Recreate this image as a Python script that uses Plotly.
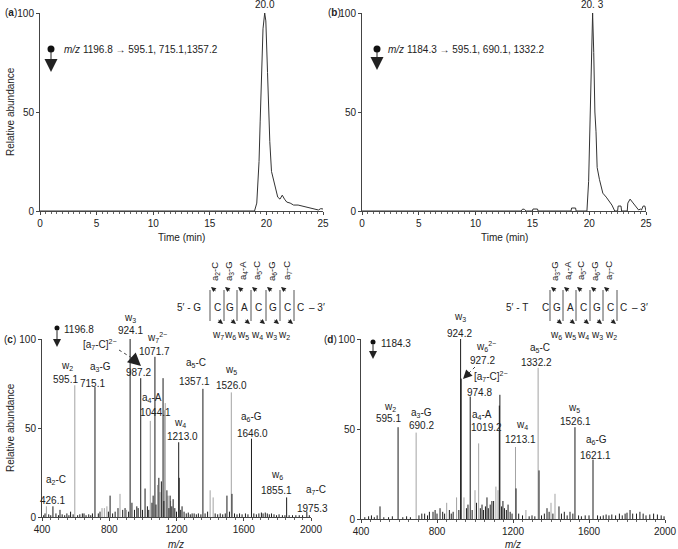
import plotly.graph_objects as go

W, H = 678, 549
FONT = "Liberation Sans, Arial, Helvetica, sans-serif"
BLACK = "#1c1c1c"
GRAY = "#a3a3a3"

# ---------- (a) chromatogram m/z 1196.8
time_a = [0, 18.95, 19.15, 19.35, 19.45, 19.55, 19.7, 19.85, 19.95, 20.1, 20.2, 20.3, 20.45,
          20.6, 20.8, 21.0, 21.2, 21.4, 21.6, 21.8, 22.1, 22.4, 22.8, 23.2, 23.6, 24.1, 24.4,
          24.6, 24.8, 25.0]
abund_a = [0, 0, 4, 25, 45, 70, 92, 100, 96, 70, 50, 35, 20,
           16, 12, 7, 6, 8, 6, 4.5, 4, 3, 3, 2.5, 2, 1.5, 1,
           0.5, 1.2, 1]

# ---------- (b) chromatogram m/z 1184.3
time_b = [0, 14.0, 14.15, 14.3, 14.45, 15.0, 15.05, 15.45, 15.5, 18.4, 18.45, 18.8, 18.85,
          19.8, 19.95, 20.1, 20.2, 20.3, 20.4, 20.5, 20.6, 20.7, 20.9, 21.2, 21.5, 21.8, 22.0,
          22.25, 22.5, 22.55, 22.8, 22.85, 23.35, 23.4, 23.6, 23.8, 24.0, 24.2, 24.35, 24.5,
          24.6, 24.75, 24.9, 25.0]
abund_b = [0, 0, 1, 0.8, 0, 0, 1, 1, 0, 0, 1.5, 1.5, 0,
           0, 15, 55, 85, 100, 80, 50, 40, 22, 16, 9, 7, 4.5, 3,
           0, 0, 2.5, 2.5, 0, 0, 4, 6, 4.5, 3, 2, 0.5, 1,
           0.5, 2.5, 2.5, 0]

# ---------- (c) MS/MS of m/z 1196.8
mz_c_black = [715.1, 924.1, 987.2, 1071.7, 1120, 1213.0, 1357.1, 1646.0, 1855.1, 1975.3,
              805, 852, 894, 935, 964, 1013, 1061, 1095, 1110, 1143, 1162, 1180, 1216, 1233,
              1293, 1500, 1530, 465, 507, 570, 640,
              410, 418, 440, 452, 483, 498, 520, 535, 548, 560, 585, 612, 625, 650, 662, 678,
              690, 700, 735, 745, 795, 820, 835, 880, 915, 950, 972, 998, 1027, 1035, 1054,
              1078, 1125, 1155, 1172, 1190, 1200, 1225, 1245, 1258, 1270, 1282, 1305, 1318,
              1330, 1345, 1370, 1385, 1430, 1445, 1460, 1475, 1490, 1515, 1545, 1560, 1575,
              1590, 1610, 1625, 1660, 1675, 1690, 1705, 1715, 1728, 1740, 1752, 1765, 1780,
              1795, 1810, 1830, 1845, 1870, 1890, 1910, 1930, 1950, 1990]
int_c_black = [73, 100, 78, 90, 78, 42, 72, 44, 11, 3,
               12, 5, 5, 8, 6, 16, 12, 22, 20, 15, 12, 10, 22, 6,
               2, 12, 13, 6, 4, 3, 2,
               1, 2, 1.5, 1, 2, 1, 1.5, 1, 2, 1, 1.5, 1, 1.5, 2, 1, 1.5,
               1, 2, 2, 3, 3, 2, 3, 4, 3, 4, 5, 4, 6, 4, 8,
               7, 9, 5, 6, 5, 3, 4, 3, 2, 2.5, 1.5, 2, 1.5,
               2, 1.5, 2, 3, 2, 1.5, 2, 1.5, 2, 3, 2, 1.5, 2,
               1.5, 2, 1.5, 2, 1.5, 2, 2.5, 2, 2.5, 2, 1.5, 2, 1.5,
               1, 1.5, 1, 1, 1, 1, 1, 1, 1, 1]
mz_c_gray = [426.1, 595.1, 1044.1, 1128, 1133, 1526.0, 757, 771, 786, 864, 903, 1087, 1102,
             1150, 1165, 1400, 1418]
int_c_gray = [6, 74, 54, 60, 64, 70, 5, 5, 6, 13, 4, 18, 14,
              12, 9, 15, 11]

# ---------- (d) MS/MS of m/z 1184.3
mz_d_black = [595.1, 924.2, 927.2, 974.8, 1128, 1131, 1216, 1337, 1526.1, 1621.1,
              500, 779, 816, 963, 1037, 1063, 1089, 1147, 1174, 1379, 1442, 1816, 1868,
              420, 440, 455, 470, 485, 520, 545, 565, 620, 640, 660, 705, 720, 735, 750, 760,
              790, 800, 830, 840, 865, 875, 885, 915, 955, 985, 1008, 1028, 1045, 1055, 1070,
              1080, 1098, 1140, 1155, 1165, 1185, 1195, 1230, 1250, 1285, 1300, 1315, 1350,
              1365, 1390, 1410, 1455, 1470, 1485, 1500, 1515, 1545, 1560, 1580, 1600, 1645,
              1660, 1675, 1690, 1705, 1720, 1740, 1760, 1775, 1790, 1800, 1830, 1850, 1885,
              1900, 1920, 1940, 1960, 1980, 1995]
int_d_black = [51, 100, 78, 68, 63, 69, 17, 27, 51, 33,
               7, 4, 6, 8, 8, 12, 10, 10, 8, 6, 7, 5, 4,
               1, 1.5, 2, 1, 2, 1, 1, 1.5, 1, 1.5, 1, 2, 3, 3, 2, 4,
               5, 3, 4, 3, 5, 3, 4, 5, 6, 5, 9, 6, 5, 7, 6,
               8, 10, 7, 6, 5, 4, 3, 3, 2, 1.5, 2, 1.5, 2,
               3, 4, 3, 3, 4, 2, 4, 3, 2, 1.5, 2, 2, 2,
               1.5, 2, 2.5, 2, 2.5, 2, 3, 2, 3, 3.5, 3, 3, 3,
               2, 2.5, 3, 2.5, 2, 1.5]
mz_d_gray = [690.2, 1019.2, 1213.1, 1332.2, 1000, 903, 942, 851, 1110, 1121, 1268, 1400, 1421]
int_d_gray = [48, 42, 40, 84, 16, 12, 12, 9, 18, 16, 5, 9, 14]

# ---------- peak labels (text, then anchor m/z, height %, pixel nudge)
labels_c = ["w<sub>3</sub>", "924.1", "w<sub>7</sub><sup>2−</sup>", "1071.7",
            "[a<sub>7</sub>-C]<sup>2−</sup>", "987.2", "a<sub>5</sub>-C", "1357.1",
            "w<sub>5</sub>", "1526.0", "w<sub>2</sub>", "595.1", "a<sub>3</sub>-G", "715.1",
            "a<sub>4</sub>-A", "1044.1", "w<sub>4</sub>", "1213.0", "a<sub>6</sub>-G", "1646.0",
            "a<sub>2</sub>-C", "426.1", "w<sub>6</sub>", "1855.1", "a<sub>7</sub>-C", "1975.3"]
pos_c = [(924, 112, 0), (924, 104.5, 0), (1085, 101, 0), (1072, 93, 0),
         (745, 97, 0), (971, 81, 0), (1315, 86.5, 0), (1305, 76, 0),
         (1525, 82.5, 0), (1530, 74, 0), (550, 85, 0), (537, 77, 0), (745, 84, 0), (703, 75, 0),
         (1055, 67, 0), (1078, 58.5, 0), (1221, 53, 0), (1233, 45, 0), (1644, 56, 0),
         (1650, 47, 0), (483, 21, 0), (465, 9.5, 0), (1799, 23.6, 0), (1793, 15, 0),
         (1975, 15, 9), (1975, 5, 6)]

labels_d = ["w<sub>3</sub>", "924.2", "w<sub>6</sub><sup>2−</sup>", "927.2",
            "[a<sub>7</sub>-C]<sup>2−</sup>", "974.8", "a<sub>4</sub>-A", "1019.2",
            "w<sub>4</sub>", "1213.1", "a<sub>5</sub>-C", "1332.2", "w<sub>5</sub>", "1526.1",
            "w<sub>2</sub>", "595.1", "a<sub>3</sub>-G", "690.2", "a<sub>6</sub>-G", "1621.1"]
pos_d = [(921, 112, 0), (921, 103, 0), (1060, 96, 0), (1042, 88, 0),
         (1084, 79, 0), (1026, 70.5, 0), (1037, 58, 0), (1063, 51, 0),
         (1247, 52, 0), (1237, 44, 0), (1342, 95, 0), (1326, 87, 0), (1521, 61.5, 0),
         (1531, 54, 0), (553, 62, 0), (547, 56, 0), (721, 59, 0), (716, 52, 0),
         (1642, 44, 0), (1632, 35.5, 0)]


def sticks(mz, inten):
    xs, ys = [], []
    for m, v in zip(mz, inten):
        xs += [m, m, None]
        ys += [0, v, None]
    return xs, ys


def px(x):
    return x / W


def py(y):
    return 1 - y / H


fig = go.Figure()

fig.add_trace(go.Scatter(x=time_a, y=abund_a, mode="lines", line=dict(color="#333", width=1),
                         xaxis="x", yaxis="y"))
fig.add_trace(go.Scatter(x=time_b, y=abund_b, mode="lines", line=dict(color="#333", width=1),
                         xaxis="x2", yaxis="y2"))
for (mz, inten, color, xa, ya) in [
    (mz_c_gray, int_c_gray, GRAY, "x3", "y3"),
    (mz_c_black, int_c_black, BLACK, "x3", "y3"),
    (mz_d_gray, int_d_gray, GRAY, "x4", "y4"),
    (mz_d_black, int_d_black, BLACK, "x4", "y4"),
]:
    xs, ys = sticks(mz, inten)
    fig.add_trace(go.Scatter(x=xs, y=ys, mode="lines", line=dict(color=color, width=1),
                             xaxis=xa, yaxis=ya, hoverinfo="skip"))

axis_style = dict(showline=True, linecolor="#444", linewidth=1, ticks="outside", ticklen=3,
                  tickcolor="#444", tickfont=dict(size=10, color="#222"), showgrid=False,
                  zeroline=False, fixedrange=True)
y_style = dict(axis_style, range=[0, 100], tickvals=[0, 50, 100])

# panel boxes in window pixels: (left, right, bottom, top)
box_a, box_b = (40, 323, 211, 13), (362, 646, 211, 13)
box_c, box_d = (42, 311, 517, 339), (361, 665, 519, 339)

fig.update_layout(
    width=W, height=H, margin=dict(l=0, r=0, t=0, b=0, autoexpand=False),
    paper_bgcolor="white", plot_bgcolor="white", showlegend=False,
    font=dict(family=FONT, size=10, color="#222"),
    xaxis=dict(axis_style, domain=[px(box_a[0]), px(box_a[1])], anchor="y", range=[0, 25],
               dtick=5, minor=dict(ticks="outside", ticklen=2, dtick=0.5, tickcolor="#666")),
    yaxis=dict(y_style, domain=[py(box_a[2]), py(box_a[3])], anchor="x"),
    xaxis2=dict(axis_style, domain=[px(box_b[0]), px(box_b[1])], anchor="y2", range=[0, 25],
                dtick=5, minor=dict(ticks="outside", ticklen=2, dtick=0.5, tickcolor="#666")),
    yaxis2=dict(y_style, domain=[py(box_b[2]), py(box_b[3])], anchor="x2"),
    xaxis3=dict(axis_style, domain=[px(box_c[0]), px(box_c[1])], anchor="y3",
                range=[400, 2000], tickvals=[400, 800, 1200, 1600, 2000],
                minor=dict(ticks="outside", ticklen=2, dtick=50, tickcolor="#666")),
    yaxis3=dict(y_style, domain=[py(box_c[2]), py(box_c[3])], anchor="x3"),
    xaxis4=dict(axis_style, domain=[px(box_d[0]), px(box_d[1])], anchor="y4",
                range=[400, 2000], tickvals=[400, 800, 1200, 1600, 2000],
                minor=dict(ticks="outside", ticklen=2, dtick=50, tickcolor="#666")),
    yaxis4=dict(y_style, domain=[py(box_d[2]), py(box_d[3])], anchor="x4"),
)

ann = []
shapes = []


def ptext(text, x, y, size=10, **kw):
    d = dict(text=text, x=px(x), y=py(y), xref="paper", yref="paper", showarrow=False,
             xanchor="center", yanchor="middle",
             font=dict(size=size, family=FONT, color="#222"))
    d.update(kw)
    return d


def parrow(tip, tail, size=1.0, color="#222"):
    return dict(text="", x=px(tip[0]), y=py(tip[1]), xref="paper", yref="paper",
                ax=tail[0] - tip[0], ay=tail[1] - tip[1], showarrow=True, arrowhead=2,
                arrowsize=size, arrowwidth=1, arrowcolor=color, standoff=0)


def dot(x, y, r):
    return dict(type="circle", xref="paper", yref="paper", x0=px(x - r), x1=px(x + r),
                y0=py(y + r), y1=py(y - r), fillcolor="#111", line=dict(width=0))


# panel letters and axis titles
ann += [ptext("(<b>a</b>)", 11, 13), ptext("(<b>b</b>)", 334, 13),
        ptext("(<b>c</b>)", 10, 340), ptext("(<b>d</b>)", 330, 340),
        ptext("Relative abundance", 10, 112, textangle=-90),
        ptext("Relative abundance", 10, 428, textangle=-90),
        ptext("Time (min)", 181, 238), ptext("Time (min)", 504, 238),
        ptext("<i>m/z</i>", 176, 544), ptext("<i>m/z</i>", 513, 544)]

# peak retention times
ann += [dict(text="20.0", x=19.85, y=100, xref="x", yref="y", yanchor="bottom",
             showarrow=False, yshift=1),
        dict(text="20. 3", x=20.3, y=100, xref="x2", yref="y2", yanchor="bottom",
             showarrow=False, yshift=1)]

# precursor / transition annotations
shapes += [dot(51, 49, 3.5), dot(377, 49, 3.5), dot(57, 328, 2.5), dot(373, 342, 2.5)]
ann += [parrow((51, 72), (51, 50), size=2.6),
        ptext("<i>m/z</i> 1196.8 → 595.1, 715.1,1357.2", 62, 49, xanchor="left"),
        parrow((377, 70), (377, 50), size=2.6),
        ptext("<i>m/z</i> 1184.3 → 595.1, 690.1, 1332.2", 386, 49, xanchor="left"),
        parrow((57, 347), (57, 329), size=1.6),
        ptext("1196.8", 62, 329, xanchor="left"),
        parrow((373, 359), (373, 343), size=1.6),
        ptext("1184.3", 379, 343, xanchor="left")]


# peak labels; labels above the 100 % line are pinned to 100 and shifted in pixels,
# because plotly hides annotations that fall outside the axis range
def peak_labels(texts, positions, xref, yref, box):
    px_per_pct = (box[2] - box[3]) / 100.0
    out = []
    for t, (x, y, dx) in zip(texts, positions):
        dy = max(0.0, y - 100) * px_per_pct
        out.append(dict(text=t, x=x, y=min(y, 100), xref=xref, yref=yref, showarrow=False,
                        xshift=dx, yshift=dy, xanchor="center", yanchor="middle"))
    return out


ann += peak_labels(labels_c, pos_c, "x3", "y3", box_c)
ann += peak_labels(labels_d, pos_d, "x4", "y4", box_d)

# dotted pointer arrows
shapes.append(dict(type="line", xref="paper", yref="paper", x0=px(119), y0=py(350),
                   x1=px(132), y1=py(358), line=dict(color="#444", width=1, dash="dot")))
ann.append(parrow((141, 366), (131, 357), size=2.6))
shapes.append(dict(type="line", xref="paper", yref="paper", x0=px(475), y0=py(367),
                   x1=px(468), y1=py(374), line=dict(color="#444", width=1, dash="dot")))
ann.append(parrow((463, 379), (469, 373), size=1.8))


# sequence diagrams
def sequence(prefix, prefix_end, letters, letter_x, bounds, tops, top_x, bots, bot_x, suffix_x):
    out_a, out_s = [], []
    out_a.append(ptext(prefix, prefix_end, 307, xanchor="right"))
    for l, x in zip(letters, letter_x):
        out_a.append(ptext(l, x, 307))
    out_a.append(ptext("– 3′", suffix_x, 307, xanchor="left"))
    for b in bounds:
        out_s.append(dict(type="line", xref="paper", yref="paper", x0=px(b), x1=px(b),
                          y0=py(290), y1=py(321), line=dict(color="#555", width=1)))
    for i, (t, x) in enumerate(zip(tops, top_x)):
        out_a.append(ptext(t, x, 271, size=9.5, textangle=-90))
        b = bounds[i]
        out_a.append(parrow((b + 1, 287), (b + 7, 292), size=1.0))
    for i, (t, x) in enumerate(zip(bots, bot_x)):
        out_a.append(ptext(t, x, 335))
        b = bounds[i + 1]
        out_a.append(parrow((b - 1, 324), (b - 7, 319), size=1.0))
    return out_a, out_s


a_c, s_c = sequence("5′ - G", 203, ["C", "G", "A", "C", "G", "C", "C"],
                    [217, 230, 244, 258, 273, 287, 300],
                    [210, 224, 237, 251, 266, 280, 294],
                    ["a<sub>2</sub>-C", "a<sub>3</sub>-G", "a<sub>4</sub>-A", "a<sub>5</sub>-C",
                     "a<sub>6</sub>-G", "a<sub>7</sub>-C"],
                    [215, 229, 243, 257, 272, 287],
                    ["w<sub>7</sub>", "w<sub>6</sub>", "w<sub>5</sub>", "w<sub>4</sub>",
                     "w<sub>3</sub>", "w<sub>2</sub>"],
                    [218, 230, 243, 257, 271, 284], 307)
a_d, s_d = sequence("5′ - T", 530, ["C", "G", "A", "C", "G", "C", "C"],
                    [545, 557, 570, 583, 597, 610, 623],
                    [550, 563, 576, 590, 603, 617],
                    ["a<sub>3</sub>-G", "a<sub>4</sub>-A", "a<sub>5</sub>-C", "a<sub>6</sub>-G",
                     "a<sub>7</sub>-C"],
                    [555, 568, 581, 595, 609],
                    ["w<sub>6</sub>", "w<sub>5</sub>", "w<sub>4</sub>", "w<sub>3</sub>",
                     "w<sub>2</sub>"],
                    [556, 570, 583, 597, 611], 630)
ann += a_c + a_d
shapes += s_c + s_d

fig.update_layout(annotations=ann, shapes=shapes)
# the page's default body margin would offset the 678x549 figure inside the window
fig.write_html("out.html", config={"displayModeBar": False},
               post_script="document.body.style.margin='0px';")
